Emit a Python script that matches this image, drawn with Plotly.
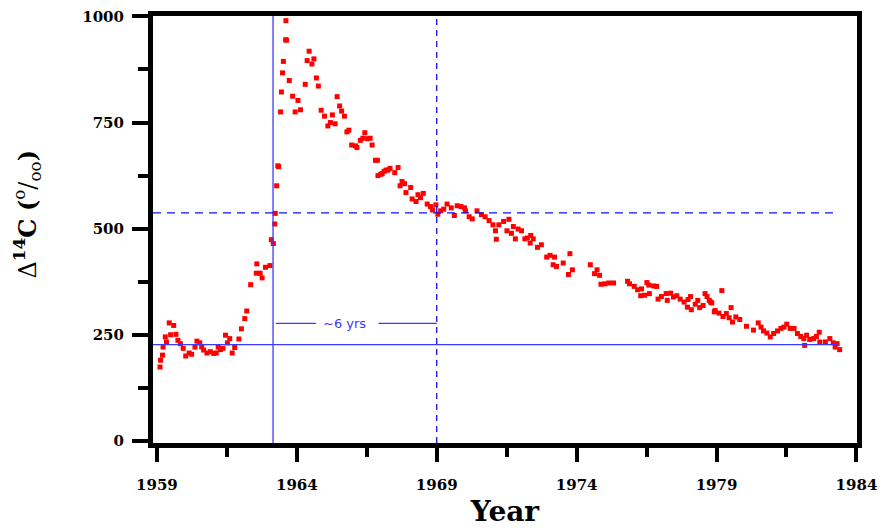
import plotly.graph_objects as go

# Measured atmospheric delta-14C (per mil) vs. year
years = [
    1959.11, 1959.13, 1959.20, 1959.22, 1959.30, 1959.34, 1959.44, 1959.49, 1959.60, 1959.68,
    1959.75, 1959.84, 1959.94, 1960.03, 1960.15, 1960.24, 1960.36, 1960.43, 1960.53, 1960.60,
    1960.67, 1960.79, 1960.91, 1961.03, 1961.12, 1961.19, 1961.27, 1961.36, 1961.45, 1961.52,
    1961.60, 1961.69, 1961.78, 1961.93, 1962.02, 1962.14, 1962.21, 1962.35, 1962.57, 1962.55,
    1962.69, 1962.76, 1962.88, 1963.04, 1963.09, 1963.16, 1963.21, 1963.23, 1963.28, 1963.32,
    1963.35, 1963.42, 1963.45, 1963.49, 1963.52, 1963.60, 1963.63, 1963.61, 1963.73, 1963.85,
    1963.94, 1964.04, 1964.13, 1964.30, 1964.37, 1964.44, 1964.54, 1964.61, 1964.70, 1964.77,
    1964.87, 1964.99, 1965.11, 1965.20, 1965.27, 1965.37, 1965.44, 1965.53, 1965.60, 1965.70,
    1965.79, 1965.86, 1965.96, 1966.10, 1966.15, 1966.27, 1966.36, 1966.43, 1966.53, 1966.62,
    1966.69, 1966.81, 1966.88, 1966.90, 1967.00, 1967.05, 1967.12, 1967.19, 1967.26, 1967.33,
    1967.50, 1967.62, 1967.69, 1967.76, 1967.85, 1967.90, 1968.07, 1968.12, 1968.26, 1968.33,
    1968.42, 1968.52, 1968.66, 1968.78, 1968.85, 1968.97, 1969.04, 1969.14, 1969.25, 1969.37,
    1969.52, 1969.63, 1969.73, 1969.87, 1969.99, 1970.03, 1970.16, 1970.27, 1970.44, 1970.60,
    1970.73, 1970.87, 1971.01, 1971.10, 1971.13, 1971.22, 1971.39, 1971.51, 1971.58, 1971.67,
    1971.74, 1971.81, 1971.91, 1972.03, 1972.15, 1972.24, 1972.34, 1972.36, 1972.45, 1972.60,
    1972.74, 1972.93, 1973.05, 1973.16, 1973.21, 1973.28, 1973.52, 1973.71, 1973.76, 1973.85,
    1974.49, 1974.64, 1974.73, 1974.82, 1974.87, 1975.01, 1975.15, 1975.32, 1975.82, 1975.89,
    1976.06, 1976.18, 1976.29, 1976.32, 1976.43, 1976.51, 1976.58, 1976.60, 1976.75, 1976.86,
    1976.91, 1977.03, 1977.20, 1977.24, 1977.36, 1977.46, 1977.58, 1977.70, 1977.84, 1977.96,
    1977.98, 1978.07, 1978.10, 1978.24, 1978.33, 1978.40, 1978.52, 1978.59, 1978.66, 1978.74,
    1978.79, 1978.83, 1978.92, 1978.95, 1979.09, 1979.19, 1979.23, 1979.35, 1979.45, 1979.52,
    1979.57, 1979.69, 1979.83, 1980.07, 1980.32, 1980.49, 1980.59, 1980.68, 1980.80, 1980.92,
    1981.04, 1981.18, 1981.30, 1981.41, 1981.51, 1981.63, 1981.77, 1981.89, 1982.01, 1982.12,
    1982.15, 1982.22, 1982.33, 1982.47, 1982.57, 1982.67, 1982.69, 1982.89, 1983.05, 1983.17,
    1983.24, 1983.31, 1983.40,
]
d14c = [
    174, 190, 202, 221, 245, 233, 278, 250, 272, 251,
    237, 229, 218, 200, 207, 204, 221, 235, 231, 221,
    214, 207, 210, 206, 207, 221, 215, 218, 249, 231,
    241, 207, 220, 240, 264, 288, 306, 368, 417, 395,
    395, 384, 409, 413, 474, 465, 511, 536, 601, 648,
    646, 775, 822, 867, 894, 945, 944, 990, 849, 812,
    775, 802, 780, 840, 896, 918, 888, 900, 855, 836,
    779, 765, 742, 750, 768, 747, 811, 789, 777, 765,
    728, 732, 697, 695, 691, 708, 713, 726, 712, 713,
    697, 661, 661, 625, 628, 630, 635, 638, 638, 642,
    632, 644, 601, 611, 606, 585, 597, 570, 564, 580,
    573, 583, 558, 552, 544, 556, 534, 542, 546, 558,
    549, 531, 554, 552, 549, 542, 528, 523, 542, 533,
    528, 519, 509, 495, 475, 509, 517, 495, 522, 489,
    505, 476, 499, 495, 476, 478, 466, 484, 476, 456,
    462, 433, 437, 415, 433, 411, 419, 392, 441, 403,
    415, 394, 403, 390, 369, 370, 372, 372, 376, 370,
    364, 356, 342, 358, 343, 373, 367, 347, 365, 364,
    334, 340, 347, 331, 348, 339, 342, 334, 327, 315,
    333, 340, 309, 322, 331, 314, 319, 347, 340, 331,
    327, 325, 304, 307, 301, 354, 293, 300, 290, 314,
    280, 292, 286, 270, 261, 278, 268, 259, 254, 245,
    253, 259, 265, 268, 275, 265, 265, 253, 246, 241,
    225, 249, 239, 241, 246, 256, 233, 233, 241, 231,
    221, 229, 215,
]

# Reference lines (data units)
test_ban_year = 1963.15
half_level_year = 1969.0
peak_half_level = 537
baseline_level = 227
ref_line_end = 1983.3
span_label = "~6 yrs"
span_label_year = 1965.72
span_label_level = 277
span_left = (1963.25, 1964.68)
span_right = (1966.92, 1969.0)

x_range = [1958.86, 1984.02]
y_range = [-5, 1001]
x_tick_vals = [1959, 1964, 1969, 1974, 1979, 1984]
y_tick_vals = [0, 250, 500, 750, 1000]

BLUE = "#3a3aff"
DBLUE = "#1010ee"
SERIF = "DejaVu Serif, Liberation Serif, serif"

fig = go.Figure()
fig.add_trace(go.Scatter(
    x=years, y=d14c, mode="markers",
    marker=dict(symbol="square", size=5, color="#ff0000", line=dict(width=0)),
    showlegend=False, cliponaxis=False,
))

shapes = [
    dict(type="line", xref="x", yref="y", x0=test_ban_year, x1=test_ban_year,
         y0=y_range[0], y1=y_range[1], line=dict(color=BLUE, width=1.3)),
    dict(type="line", xref="x", yref="y", x0=half_level_year, x1=half_level_year,
         y0=y_range[0], y1=y_range[1], line=dict(color=DBLUE, width=1.3, dash="6px,5px")),
    dict(type="line", xref="x", yref="y", x0=x_range[0], x1=ref_line_end,
         y0=peak_half_level, y1=peak_half_level, line=dict(color=DBLUE, width=1.3, dash="8px,6px")),
    dict(type="line", xref="x", yref="y", x0=x_range[0], x1=ref_line_end,
         y0=baseline_level, y1=baseline_level, line=dict(color=BLUE, width=1.3)),
    dict(type="line", xref="x", yref="y", x0=span_left[0], x1=span_left[1],
         y0=span_label_level, y1=span_label_level, line=dict(color=BLUE, width=1.2)),
    dict(type="line", xref="x", yref="y", x0=span_right[0], x1=span_right[1],
         y0=span_label_level, y1=span_label_level, line=dict(color=BLUE, width=1.2)),
]

y_title = "Δ<sup><b>14</b></sup><b>C</b> <b>(</b><sup>o</sup>/<sub>oo</sub><b>)</b>"

fig.update_layout(
    width=882, height=528,
    margin=dict(l=153, r=25, t=16, b=85),
    paper_bgcolor="white", plot_bgcolor="white",
    shapes=shapes,
    annotations=[
        dict(x=span_label_year, y=span_label_level, xref="x", yref="y",
             text=span_label, showarrow=False,
             font=dict(family="DejaVu Sans, sans-serif", size=13, color=BLUE)),
        dict(x=0, y=0.535, xref="paper", yref="paper", xshift=-126,
             xanchor="center", yanchor="middle", textangle=-90,
             text=y_title, showarrow=False,
             font=dict(family=SERIF, size=24, color="black")),
    ],
    xaxis=dict(
        range=x_range, tickmode="array", tickvals=x_tick_vals,
        ticktext=[str(v) for v in x_tick_vals], automargin=False,
        ticklabeloverflow="allow",
        showgrid=False, zeroline=False,
        showline=True, linecolor="black", linewidth=5, mirror=True,
        ticks="outside", ticklen=14, tickwidth=4, tickcolor="black",
        ticklabelstandoff=10,
        minor=dict(dtick=2.5, tick0=1959, ticks="outside", ticklen=9, tickwidth=4,
                   tickcolor="black", showgrid=False),
        tickfont=dict(family=SERIF, size=15, color="black", weight="bold"),
        title=dict(text="<b>Year</b>", font=dict(family=SERIF, size=28, color="black"),
                   standoff=10),
    ),
    yaxis=dict(
        range=y_range, tickmode="array", tickvals=y_tick_vals,
        ticktext=[str(v) for v in y_tick_vals], automargin=False,
        ticklabeloverflow="allow",
        showgrid=False, zeroline=False,
        showline=True, linecolor="black", linewidth=5, mirror=True,
        ticks="outside", ticklen=16, tickwidth=4, tickcolor="black",
        ticklabelstandoff=5,
        minor=dict(dtick=125, tick0=0, ticks="outside", ticklen=10, tickwidth=4,
                   tickcolor="black", showgrid=False),
        tickfont=dict(family=SERIF, size=15, color="black", weight="bold"),
    ),
)

# remove the default page margin so the 882x528 figure fills the window exactly
fig.write_html("out.html", config={"displayModeBar": False},
               post_script="document.body.style.margin='0';")
